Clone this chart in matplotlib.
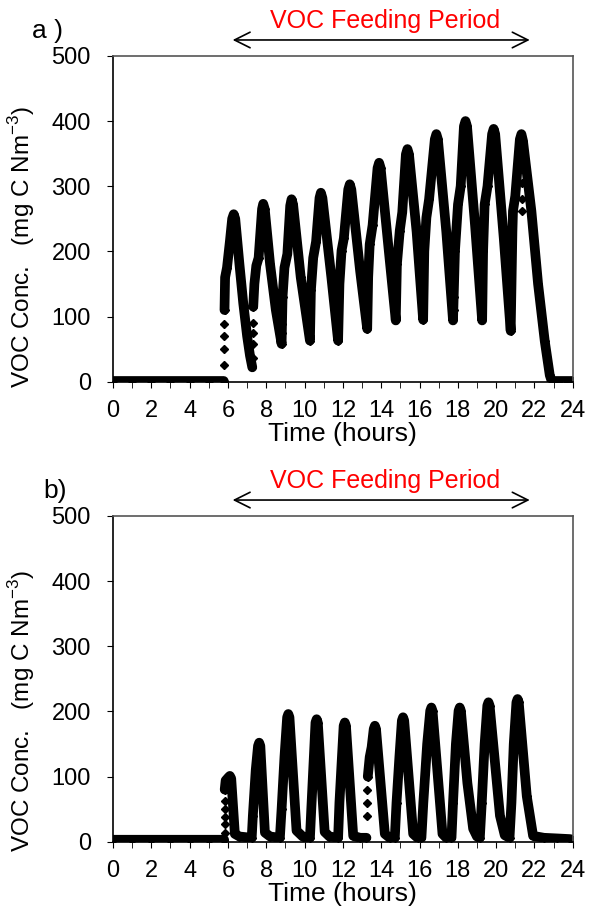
import matplotlib

matplotlib.use("Agg")
import matplotlib.pyplot as plt
import numpy as np

nan = np.nan

# Panel a: VOC concentration (mg C Nm-3) against time (hours)
time_a = [
    0.0, 1.0, 2.0, 3.0, 4.0, 5.0, 5.78, nan,
    5.82, 5.85, 5.95, 6.1, 6.22, 6.3, 6.38, 6.6, 6.8, 7.0, 7.15, 7.27, nan,
    7.32, 7.38, 7.48, 7.6, 7.72, 7.78, 7.84, 7.92, 8.2, 8.5, 8.8,
    8.85, 8.95, 9.1, 9.25, 9.32, 9.4, 9.8, 10.28,
    10.33, 10.45, 10.6, 10.78, 10.85, 10.93, 11.4, 11.75,
    11.82, 11.93, 12.05, 12.28, 12.36, 12.44, 12.9, 13.27,
    13.32, 13.4, 13.55, 13.81, 13.89, 13.97, 14.4, 14.76,
    14.82, 14.97, 15.1, 15.29, 15.37, 15.45, 15.85, 16.19,
    16.25, 16.36, 16.5, 16.8, 16.88, 16.96, 17.4, 17.75,
    17.85, 18.01, 18.15, 18.32, 18.4, 18.48, 18.9, 19.27,
    19.32, 19.4, 19.55, 19.79, 19.87, 19.95, 20.4, 20.76,
    20.85, 20.88, 21.0, 21.24, 21.32, 21.4, 21.84, 22.19, 22.54, 22.8, 22.9,
    23.3, 23.7, 24.0,
]
conc_a = [
    1, 1, 1, 1, 1, 1, 1, nan,
    110, 160, 175, 215, 250, 257, 250, 180, 120, 70, 40, 22, nan,
    115, 150, 178, 190, 240, 265, 273, 265, 180, 110, 58,
    130, 175, 196, 270, 280, 272, 160, 63,
    140, 190, 215, 282, 290, 282, 160, 63,
    150, 201, 220, 295, 303, 295, 170, 81,
    160, 211, 240, 328, 336, 328, 200, 94,
    180, 232, 260, 349, 357, 349, 230, 95,
    200, 252, 280, 372, 380, 372, 230, 94,
    200, 272, 300, 392, 400, 392, 240, 94,
    200, 272, 300, 380, 388, 380, 220, 78,
    230, 262, 285, 372, 380, 370, 262, 150, 62, 10, 1,
    1, 1, 1,
]
# isolated points during the fast rises
dots_time_a = [5.8, 5.8, 5.8, 5.8, 7.29, 7.29, 7.3, 7.3, 8.8, 8.8, 8.82,
               17.8, 17.8, 20.76, 20.76, 20.78, 21.35, 21.35, 21.33, 22.36]
dots_conc_a = [25, 50, 70, 89, 37, 58, 74, 90, 74, 89, 104,
               110, 130, 145, 160, 175, 262, 280, 305, 106]

# Panel b
time_b = [
    0.0, 1.0, 2.0, 3.0, 4.0, 5.0, 5.8, nan,
    5.83, 5.88, 6.03, 6.1, 6.17, 6.36, 6.6, 7.24,
    7.3, 7.45, 7.57, 7.63, 7.69, 7.93, 8.2, 8.71,
    8.8, 8.95, 9.09, 9.15, 9.21, 9.58, 9.9, 10.28,
    10.35, 10.5, 10.57, 10.63, 10.69, 11.05, 11.3, 11.75,
    11.82, 11.95, 12.04, 12.1, 12.16, 12.54, 12.9, 13.23, nan,
    13.3, 13.4, 13.5, 13.61, 13.67, 13.73, 14.19, 14.45, 14.71,
    14.8, 14.95, 15.08, 15.14, 15.2, 15.67, 15.9, 16.1,
    16.2, 16.4, 16.56, 16.62, 16.68, 17.2, 17.4, 17.67,
    17.75, 17.9, 18.04, 18.1, 18.16, 18.5, 18.8, 19.0, 19.15,
    19.25, 19.4, 19.54, 19.6, 19.66, 20.2, 20.45, 20.7,
    20.8, 20.92, 21.06, 21.12, 21.18, 21.6, 21.93, 22.5, 23.2, 23.85, 24.0,
]
conc_b = [
    3, 3, 3, 3, 3, 3, 3, nan,
    80, 94, 99, 101, 97, 12, 8, 6,
    40, 110, 147, 152, 147, 14, 8, 6,
    50, 130, 191, 196, 191, 17, 8, 6,
    50, 140, 183, 188, 183, 15, 8, 6,
    60, 130, 178, 183, 178, 9, 6, 6, nan,
    100, 130, 145, 173, 178, 173, 12, 6, 6,
    60, 130, 186, 191, 186, 12, 6, 6,
    60, 150, 201, 206, 201, 12, 6, 6,
    60, 150, 201, 206, 201, 90, 20, 8, 6,
    60, 150, 209, 214, 209, 40, 10, 6,
    60, 150, 214, 219, 214, 70, 9, 6, 5, 4, 3,
]
dots_time_b = [5.82, 5.82, 5.82, 5.82, 5.82, 13.25, 13.25, 13.28]
dots_conc_b = [14, 27, 38, 50, 63, 40, 60, 80]

x_ticks = list(range(0, 25, 2))
y_ticks = [0, 100, 200, 300, 400, 500]
feed_start, feed_end = 6.1, 21.9

plt.rcParams["font.family"] = ["Liberation Sans", "DejaVu Sans"]
plt.rcParams["mathtext.fontset"] = "custom"
plt.rcParams["mathtext.rm"] = "Liberation Sans"

fig = plt.figure(figsize=(5.89, 9.17), dpi=100)


def draw_panel(rect, t, c, dt, dc, tag, tag_pos, label_y):
    ax = fig.add_axes(rect)
    ax.plot(t, c, color="black", lw=7, marker="D", ms=4,
            solid_capstyle="round", solid_joinstyle="round")
    ax.plot(dt, dc, "D", color="black", ms=4.5, lw=0)

    ax.set_xlim(0, 24)
    ax.set_ylim(0, 500)
    ax.set_xticks(x_ticks)
    ax.set_xticks(range(0, 25), minor=True)
    ax.set_yticks(y_ticks)
    ax.tick_params(direction="out", length=4, labelsize=17, colors="black")
    ax.tick_params(axis="x", pad=9)
    ax.tick_params(axis="y", pad=12)
    ax.tick_params(which="minor", direction="out", length=4)
    for side in ["top", "right"]:
        ax.spines[side].set_color("#555555")
    for side in ax.spines:
        ax.spines[side].set_linewidth(1.2)

    ax.set_xlabel("Time (hours)", fontsize=19, labelpad=0)
    ax.set_ylabel(r"VOC Conc.   (mg C Nm$^{-3}$)", fontsize=17.5)
    ax.yaxis.set_label_coords(-0.165, label_y)

    # feeding period arrow and caption above the plot
    ax.annotate(
        "",
        xy=(feed_end, 1.049),
        xytext=(feed_start, 1.049),
        xycoords=("data", "axes fraction"),
        arrowprops=dict(arrowstyle="<->", lw=1.2, color="black", mutation_scale=28),
        annotation_clip=False,
    )
    ax.text(
        14.2,
        1.085,
        "VOC Feeding Period",
        color="red",
        fontsize=18,
        ha="center",
        va="baseline",
        transform=ax.get_xaxis_transform(),
    )
    fig.text(tag_pos[0], tag_pos[1], tag, fontsize=19, ha="left", va="baseline")
    return ax


draw_panel([0.1919, 0.5838, 0.7805, 0.3552], time_a, conc_a, dots_time_a, dots_conc_a,
           "a )", (0.054, 0.9586), 0.413)
draw_panel([0.1919, 0.0821, 0.7805, 0.3552], time_b, conc_b, dots_time_b, dots_conc_b,
           "b)", (0.073, 0.457), 0.40)

fig.savefig("out.png", dpi=100)
plt.close()
